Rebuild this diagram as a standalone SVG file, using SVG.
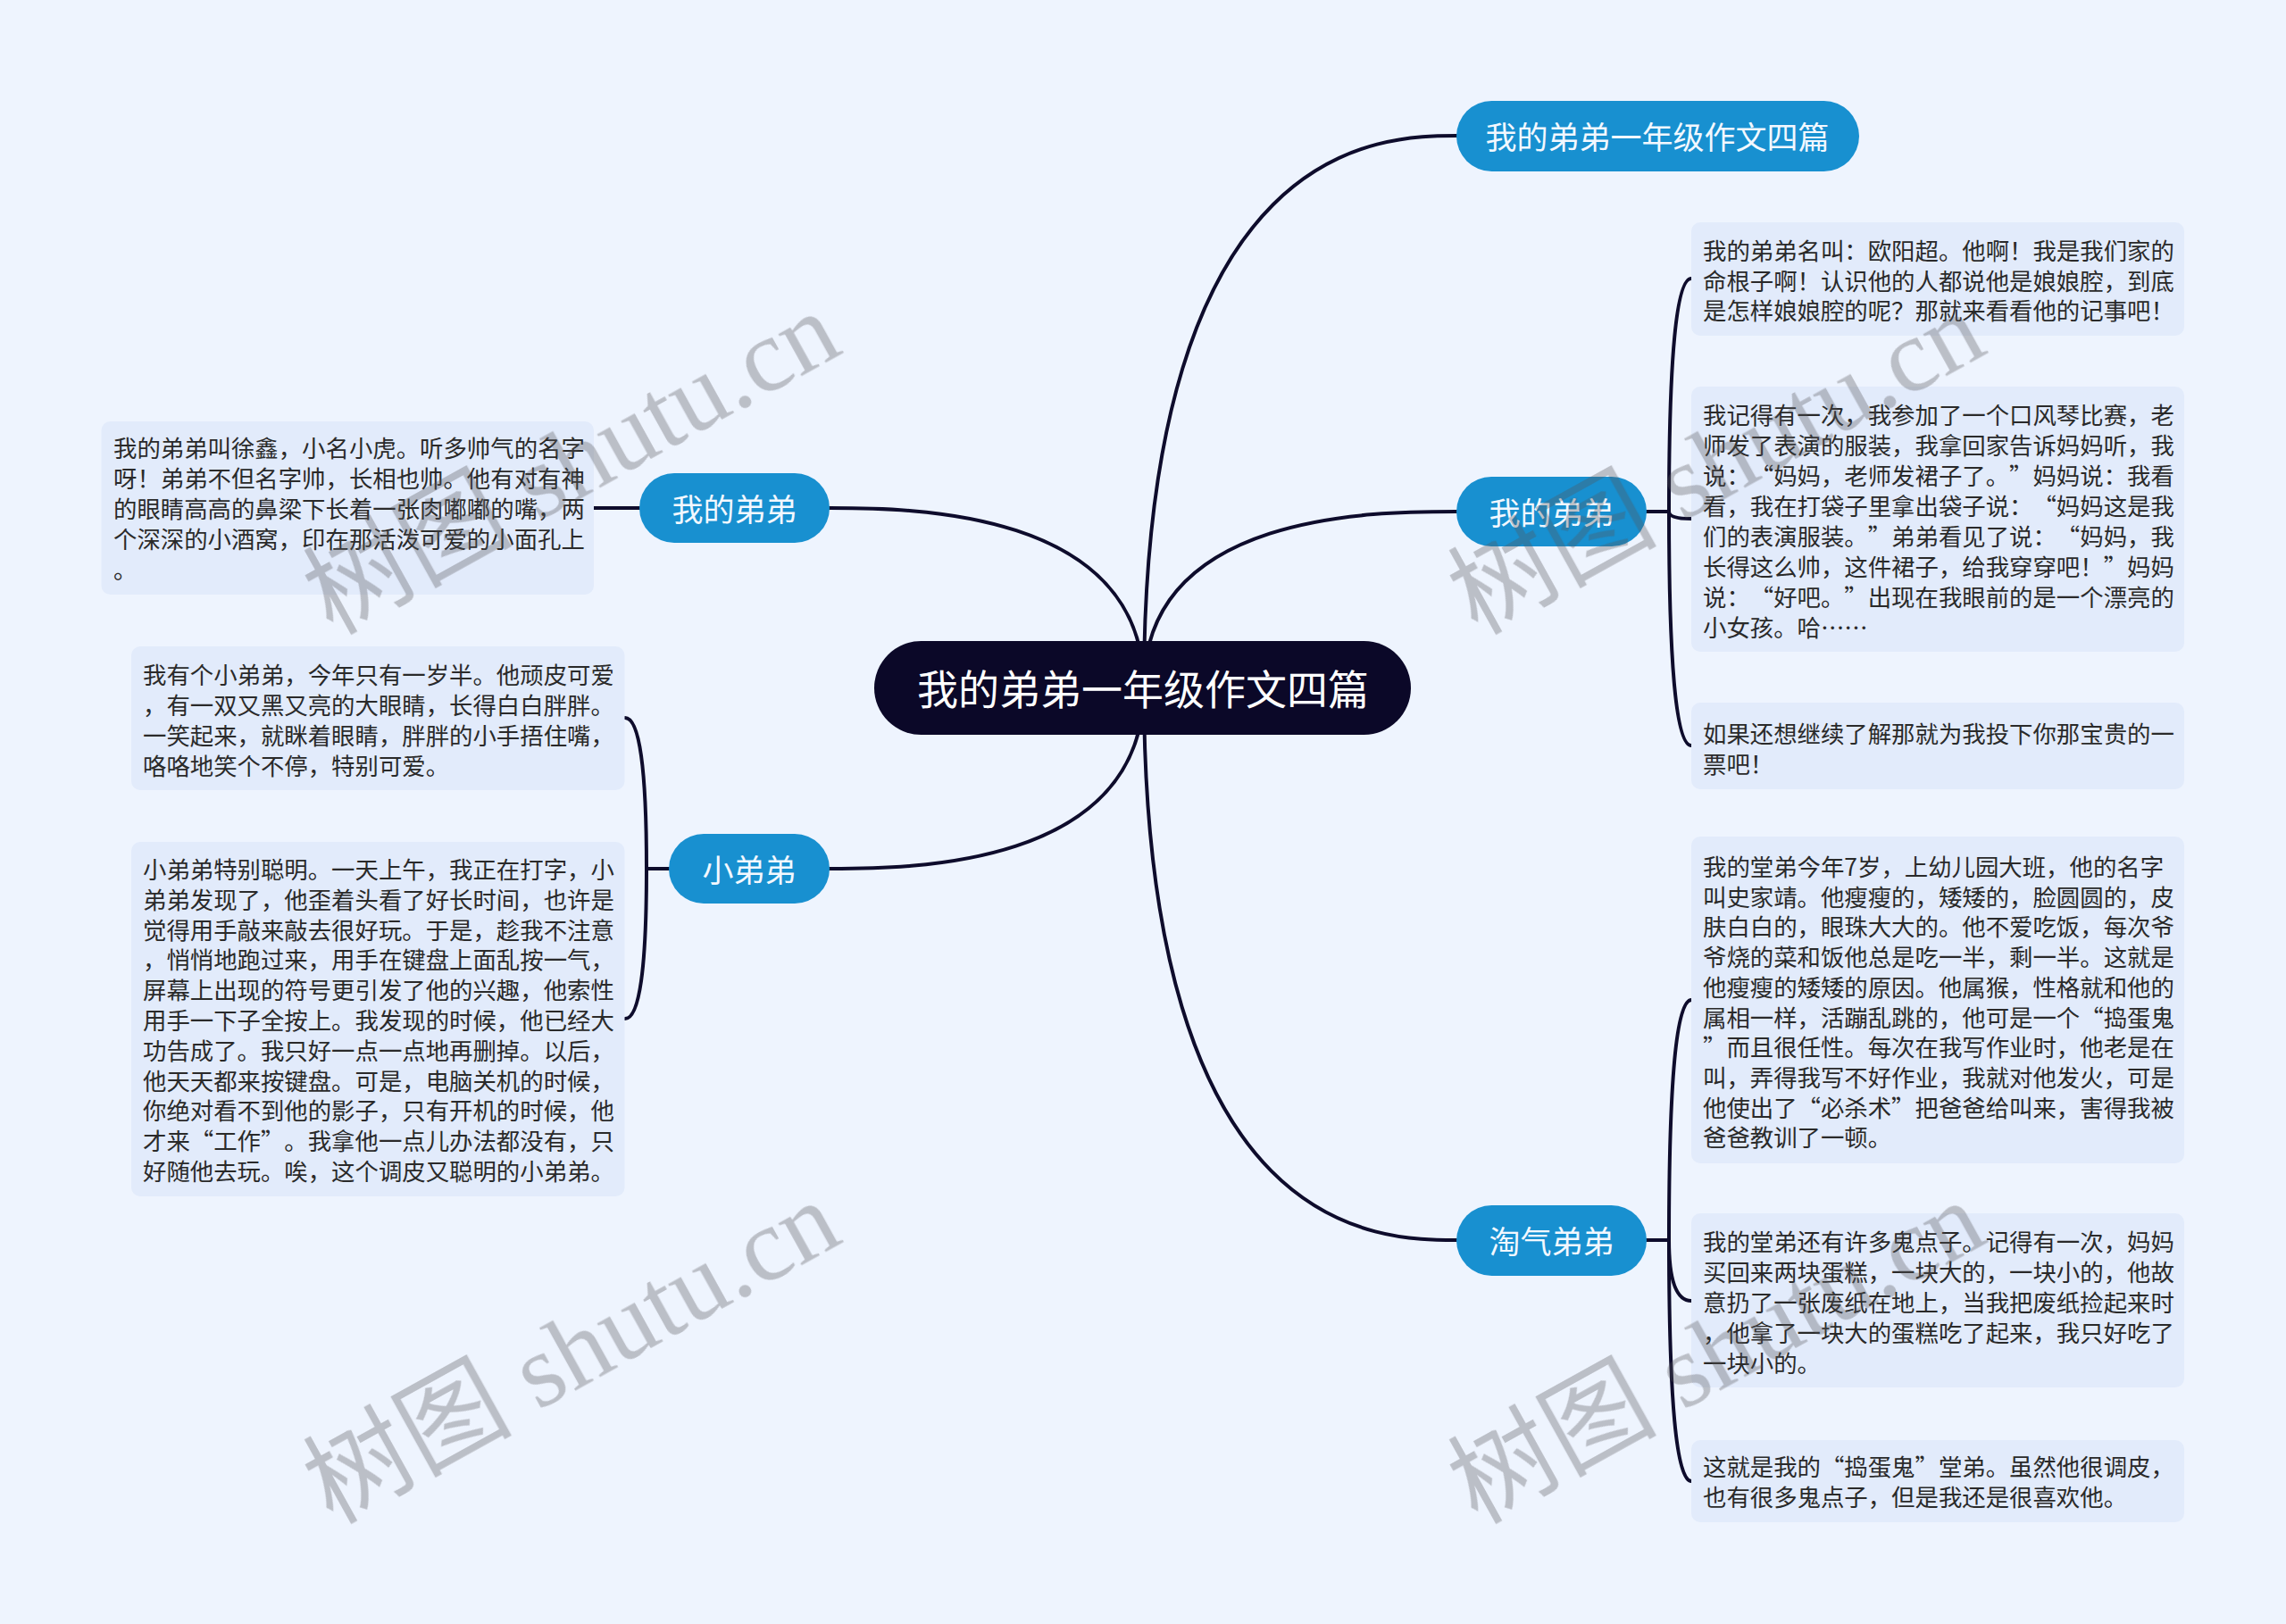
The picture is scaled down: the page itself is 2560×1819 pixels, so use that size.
<svg xmlns="http://www.w3.org/2000/svg" width="2560" height="1819" viewBox="0 0 2560 1819">
<style>
.bg{fill:#EEF4FE}
.link{fill:none;stroke:#0E0C2C;stroke-width:4;stroke-linecap:round}
.root{fill:#0B0828}
.branch{fill:#1890D0}
.box{fill:#E2EBFB}
text{text-spacing-trim:space-all}
.rt{font-family:"Noto Sans CJK SC","Noto Sans",sans-serif;font-size:46px;fill:#FFFFFF;text-anchor:middle;dominant-baseline:central}
.bt{font-family:"Noto Sans CJK SC","Noto Sans",sans-serif;font-size:35px;fill:#F2F8FF;text-anchor:middle;dominant-baseline:central}
.tt{font-family:"Noto Sans CJK SC","Noto Sans",sans-serif;font-size:26.4px;fill:#2A2A2A;dominant-baseline:central}
.wm{font-size:117px;fill:#575559;opacity:0.33}
</style>
<rect class="bg" x="0" y="0" width="2560" height="1819"/>

<g id="connectors">
  <path class="link" d="M1281 770 C1281 152 1550 152 1631 152"/>
  <path class="link" d="M1281 770 C1281 573 1540 573 1631 573"/>
  <path class="link" d="M1281 770 C1281 1389 1545 1389 1631 1389"/>
  <path class="link" d="M1281 770 C1281 569 1017 569 929 569"/>
  <path class="link" d="M1281 770 C1281 973 1016 973 929 973"/>
  <path class="link" d="M1844 573 H1869"/>
  <path class="link" d="M1869 573 Q1869 312 1894 312"/>
  <path class="link" d="M1869 573 Q1869 581 1894 581"/>
  <path class="link" d="M1869 573 Q1869 835 1894 835"/>
  <path class="link" d="M1844 1389 H1869"/>
  <path class="link" d="M1869 1389 Q1869 1120 1894 1120"/>
  <path class="link" d="M1869 1389 Q1869 1457 1894 1457"/>
  <path class="link" d="M1869 1389 Q1869 1659 1894 1659"/>
  <path class="link" d="M716 569 H665"/>
  <path class="link" d="M749 973 H724"/>
  <path class="link" d="M724 973 Q724 804 700 804"/>
  <path class="link" d="M724 973 Q724 1141 700 1141"/>
</g>

<g id="root">
  <rect class="root" x="979" y="718" width="601" height="105" rx="52.5"/>
  <text class="rt" x="1280" y="769">我的弟弟一年级作文四篇</text>
</g>

<g id="node-top">
  <rect class="branch" x="1631" y="113" width="451" height="79" rx="39.5"/>
  <text class="bt" x="1856" y="151">我的弟弟一年级作文四篇</text>
</g>

<g id="node-right-didi">
  <rect class="branch" x="1631" y="534" width="213" height="78" rx="39"/>
  <text class="bt" x="1737.5" y="572">我的弟弟</text>
</g>

<g id="node-taoqi">
  <rect class="branch" x="1631" y="1350" width="213" height="79" rx="39.5"/>
  <text class="bt" x="1737.5" y="1388.5">淘气弟弟</text>
</g>

<g id="node-left-didi">
  <rect class="branch" x="716" y="530" width="213" height="78" rx="39"/>
  <text class="bt" x="822.5" y="568">我的弟弟</text>
</g>

<g id="node-xiaodidi">
  <rect class="branch" x="749" y="934" width="180" height="78" rx="39"/>
  <text class="bt" x="839" y="972">小弟弟</text>
</g>

<g id="box-r1">
  <rect class="box" x="1894" y="249" width="552" height="127" rx="10"/>
  <text class="tt">
    <tspan x="1907" y="279">我的弟弟名叫：欧阳超。他啊！我是我们家的</tspan>
    <tspan x="1907" y="312.5">命根子啊！认识他的人都说他是娘娘腔，到底</tspan>
    <tspan x="1907" y="346">是怎样娘娘腔的呢？那就来看看他的记事吧！</tspan>
  </text>
</g>

<g id="box-r2">
  <rect class="box" x="1894" y="433" width="552" height="297" rx="10"/>
  <text class="tt">
    <tspan x="1907" y="463">我记得有一次，我参加了一个口风琴比赛，老</tspan>
    <tspan x="1907" y="497">师发了表演的服装，我拿回家告诉妈妈听，我</tspan>
    <tspan x="1907" y="531">说：“妈妈，老师发裙子了。”妈妈说：我看</tspan>
    <tspan x="1907" y="565">看，我在打袋子里拿出袋子说：“妈妈这是我</tspan>
    <tspan x="1907" y="599">们的表演服装。”弟弟看见了说：“妈妈，我</tspan>
    <tspan x="1907" y="633">长得这么帅，这件裙子，给我穿穿吧！”妈妈</tspan>
    <tspan x="1907" y="667">说：“好吧。”出现在我眼前的是一个漂亮的</tspan>
    <tspan x="1907" y="701">小女孩。哈……</tspan>
  </text>
</g>

<g id="box-r3">
  <rect class="box" x="1894" y="787" width="552" height="97" rx="10"/>
  <text class="tt">
    <tspan x="1907" y="820">如果还想继续了解那就为我投下你那宝贵的一</tspan>
    <tspan x="1907" y="854">票吧！</tspan>
  </text>
</g>

<g id="box-r4">
  <rect class="box" x="1894" y="937" width="552" height="366" rx="10"/>
  <text class="tt">
    <tspan x="1907" y="969">我的堂弟今年7岁，上幼儿园大班，他的名字</tspan>
    <tspan x="1907" y="1002.7">叫史家靖。他瘦瘦的，矮矮的，脸圆圆的，皮</tspan>
    <tspan x="1907" y="1036.4">肤白白的，眼珠大大的。他不爱吃饭，每次爷</tspan>
    <tspan x="1907" y="1070.1">爷烧的菜和饭他总是吃一半，剩一半。这就是</tspan>
    <tspan x="1907" y="1103.8">他瘦瘦的矮矮的原因。他属猴，性格就和他的</tspan>
    <tspan x="1907" y="1137.5">属相一样，活蹦乱跳的，他可是一个“捣蛋鬼</tspan>
    <tspan x="1907" y="1171.2">”而且很任性。每次在我写作业时，他老是在</tspan>
    <tspan x="1907" y="1204.9">叫，弄得我写不好作业，我就对他发火，可是</tspan>
    <tspan x="1907" y="1238.6">他使出了“必杀术”把爸爸给叫来，害得我被</tspan>
    <tspan x="1907" y="1272.3">爸爸教训了一顿。</tspan>
  </text>
</g>

<g id="box-r5">
  <rect class="box" x="1894" y="1359" width="552" height="195" rx="10"/>
  <text class="tt">
    <tspan x="1907" y="1389">我的堂弟还有许多鬼点子。记得有一次，妈妈</tspan>
    <tspan x="1907" y="1423">买回来两块蛋糕，一块大的，一块小的，他故</tspan>
    <tspan x="1907" y="1457">意扔了一张废纸在地上，当我把废纸捡起来时</tspan>
    <tspan x="1907" y="1491">，他拿了一块大的蛋糕吃了起来，我只好吃了</tspan>
    <tspan x="1907" y="1525">一块小的。</tspan>
  </text>
</g>

<g id="box-r6">
  <rect class="box" x="1894" y="1613" width="552" height="92" rx="10"/>
  <text class="tt">
    <tspan x="1907" y="1641">这就是我的“捣蛋鬼”堂弟。虽然他很调皮，</tspan>
    <tspan x="1907" y="1675">也有很多鬼点子，但是我还是很喜欢他。</tspan>
  </text>
</g>

<g id="box-l1">
  <rect class="box" x="113.5" y="472" width="551.5" height="194" rx="10"/>
  <text class="tt">
    <tspan x="127" y="500">我的弟弟叫徐鑫，小名小虎。听多帅气的名字</tspan>
    <tspan x="127" y="534">呀！弟弟不但名字帅，长相也帅。他有对有神</tspan>
    <tspan x="127" y="568">的眼睛高高的鼻梁下长着一张肉嘟嘟的嘴，两</tspan>
    <tspan x="127" y="602">个深深的小酒窝，印在那活泼可爱的小面孔上</tspan>
    <tspan x="127" y="636">。</tspan>
  </text>
</g>

<g id="box-l2">
  <rect class="box" x="147" y="724" width="552.5" height="161" rx="10"/>
  <text class="tt">
    <tspan x="160" y="754">我有个小弟弟，今年只有一岁半。他顽皮可爱</tspan>
    <tspan x="160" y="788">，有一双又黑又亮的大眼睛，长得白白胖胖。</tspan>
    <tspan x="160" y="822">一笑起来，就眯着眼睛，胖胖的小手捂住嘴，</tspan>
    <tspan x="160" y="856">咯咯地笑个不停，特别可爱。</tspan>
  </text>
</g>

<g id="box-l3">
  <rect class="box" x="147" y="943" width="552.5" height="397" rx="10"/>
  <text class="tt">
    <tspan x="160" y="972">小弟弟特别聪明。一天上午，我正在打字，小</tspan>
    <tspan x="160" y="1005.8">弟弟发现了，他歪着头看了好长时间，也许是</tspan>
    <tspan x="160" y="1039.6">觉得用手敲来敲去很好玩。于是，趁我不注意</tspan>
    <tspan x="160" y="1073.4">，悄悄地跑过来，用手在键盘上面乱按一气，</tspan>
    <tspan x="160" y="1107.2">屏幕上出现的符号更引发了他的兴趣，他索性</tspan>
    <tspan x="160" y="1141">用手一下子全按上。我发现的时候，他已经大</tspan>
    <tspan x="160" y="1174.8">功告成了。我只好一点一点地再删掉。以后，</tspan>
    <tspan x="160" y="1208.6">他天天都来按键盘。可是，电脑关机的时候，</tspan>
    <tspan x="160" y="1242.4">你绝对看不到他的影子，只有开机的时候，他</tspan>
    <tspan x="160" y="1276.2">才来“工作”。我拿他一点儿办法都没有，只</tspan>
    <tspan x="160" y="1310">好随他去玩。唉，这个调皮又聪明的小弟弟。</tspan>
  </text>
</g>

<g id="watermarks" class="wm">
  <text transform="translate(372,712) rotate(-29)"><tspan font-family="Noto Sans CJK SC, sans-serif">树图</tspan><tspan font-family="Liberation Serif, serif"> shutu.cn</tspan></text>
  <text transform="translate(372,1708) rotate(-29)"><tspan font-family="Noto Sans CJK SC, sans-serif">树图</tspan><tspan font-family="Liberation Serif, serif"> shutu.cn</tspan></text>
  <text transform="translate(1654,712) rotate(-29)"><tspan font-family="Noto Sans CJK SC, sans-serif">树图</tspan><tspan font-family="Liberation Serif, serif"> shutu.cn</tspan></text>
  <text transform="translate(1654,1708) rotate(-29)"><tspan font-family="Noto Sans CJK SC, sans-serif">树图</tspan><tspan font-family="Liberation Serif, serif"> shutu.cn</tspan></text>
</g>
</svg>
